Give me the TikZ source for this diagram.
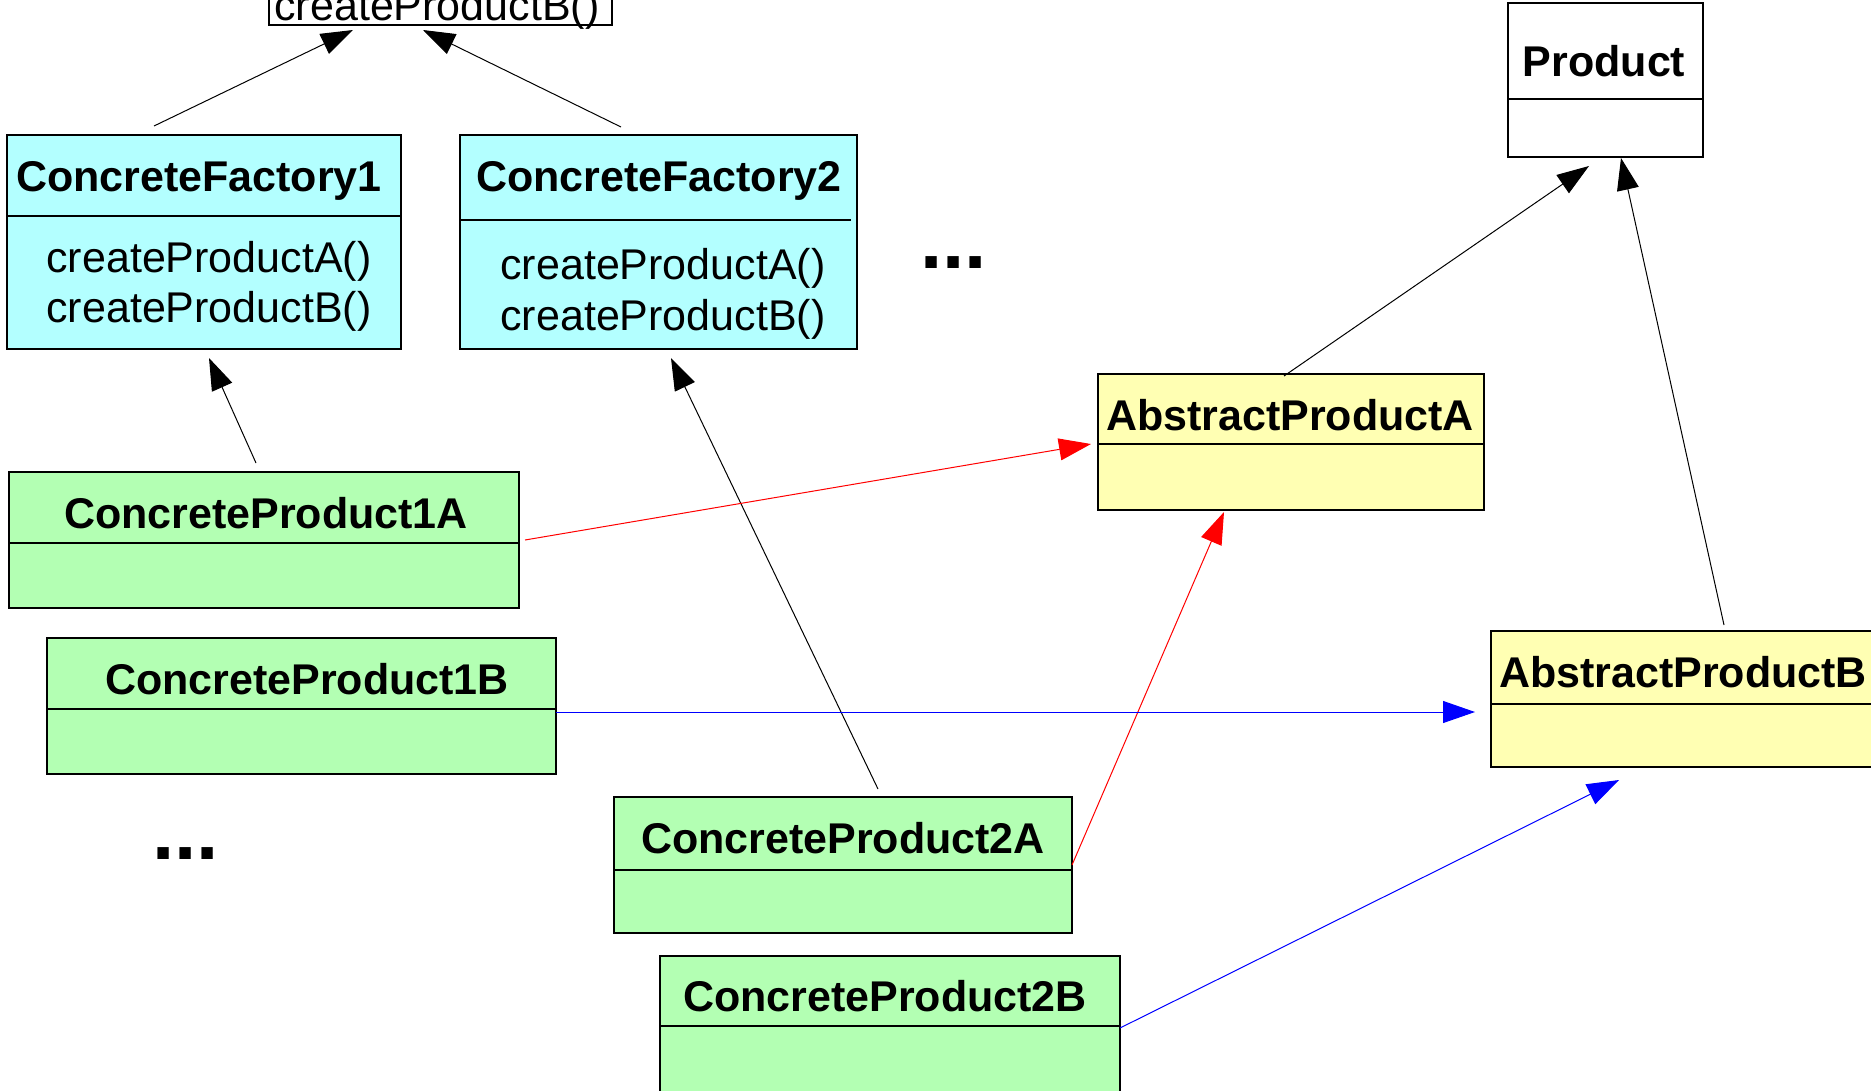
\documentclass[tikz,border=0pt]{standalone}
\usepackage{fontspec}
\setmainfont{Liberation Sans}
\usetikzlibrary{arrows.meta}
\definecolor{cyanf}{RGB}{179,255,255}
\definecolor{greenf}{RGB}{179,255,179}
\definecolor{yellowf}{RGB}{255,255,179}
\tikzset{
  cls/.style={draw=black, line width=2pt, rectangle, inner sep=0pt, anchor=north west},
  divline/.style={draw=black, line width=2pt},
  hdr/.style={font=\fontsize{43}{50}\selectfont\bfseries, inner sep=0pt, anchor=base},
  meth/.style={font=\fontsize{43}{50}\selectfont, inner sep=0pt, anchor=base},
  dotsym/.style={font=\fontsize{80}{80}\selectfont\bfseries, inner sep=0pt, anchor=base west},
  inh/.style={line width=1pt, -{Triangle[length=32pt,width=22pt]}},
}
\begin{document}
\begin{tikzpicture}[x=1pt,y=-1pt]
\useasboundingbox (0,0) rectangle (1871,1090);
\clip (0,0) rectangle (1871,1090);
\fill[white] (0,0) rectangle (1871,1090);

% top (cut off) box
\node[cls, fill=white, minimum width=343pt, minimum height=74pt] (top) at (268,-50) {};
\node[meth] (topt) at (437,20) {createProductB()};

% ConcreteFactory1
\node[cls, fill=cyanf, minimum width=394pt, minimum height=214pt] (cf1) at (6,134) {};
\draw[divline] (6,216) -- (400,216);
\node[hdr] (cf1t) at (199,191) {ConcreteFactory1};
\node[meth] (cf1a) at (209,272) {createProductA()};
\node[meth] (cf1b) at (209,322) {createProductB()};

% ConcreteFactory2
\node[cls, fill=cyanf, minimum width=397pt, minimum height=214pt] (cf2) at (459,134) {};
\draw[divline] (459,220) -- (851,220);
\node[hdr] (cf2t) at (659,191) {ConcreteFactory2};
\node[meth] (cf2a) at (663,279) {createProductA()};
\node[meth] (cf2b) at (663,330) {createProductB()};

% dots
\node[dotsym] (dots1) at (920,268) {...};
\node[dotsym] (dots2) at (152,859) {...};

% Product
\node[cls, fill=white, minimum width=195pt, minimum height=154pt] (prod) at (1507,2) {};
\draw[divline] (1507,99) -- (1702,99);
\node[hdr] (prodt) at (1604,76) {Product};

% AbstractProductA
\node[cls, fill=yellowf, minimum width=386pt, minimum height=136pt] (apa) at (1097,373) {};
\draw[divline] (1097,444) -- (1483,444);
\node[hdr] (apat) at (1290,430) {AbstractProductA};

% AbstractProductB
\node[cls, fill=yellowf, minimum width=390pt, minimum height=136pt] (apb) at (1490,630) {};
\draw[divline] (1490,704) -- (1880,704);
\node[hdr] (apbt) at (1683,687) {AbstractProductB};

% ConcreteProduct1A
\node[cls, fill=greenf, minimum width=510pt, minimum height=136pt] (cp1a) at (8,471) {};
\draw[divline] (8,543) -- (518,543);
\node[hdr] (cp1at) at (266,528) {ConcreteProduct1A};

% ConcreteProduct1B
\node[cls, fill=greenf, minimum width=509pt, minimum height=136pt] (cp1b) at (46,637) {};
\draw[divline] (46,709) -- (555,709);
\node[hdr] (cp1bt) at (307,694) {ConcreteProduct1B};

% ConcreteProduct2A
\node[cls, fill=greenf, minimum width=458pt, minimum height=136pt] (cp2a) at (613,796) {};
\draw[divline] (613,870) -- (1071,870);
\node[hdr] (cp2at) at (843,853) {ConcreteProduct2A};

% ConcreteProduct2B
\node[cls, fill=greenf, minimum width=460pt, minimum height=150pt] (cp2b) at (659,955) {};
\draw[divline] (659,1026) -- (1119,1026);
\node[hdr] (cp2bt) at (885,1011) {ConcreteProduct2B};

% connector end points
\coordinate (s1) at (154,126);  \coordinate (e1) at (353,30);
\coordinate (s2) at (621,127);  \coordinate (e2) at (423,30);
\coordinate (s3) at (256,463);  \coordinate (e3) at (209,358);
\coordinate (s4) at (878,789);  \coordinate (e4) at (671,358);
\coordinate (s5) at (525,540);  \coordinate (e5) at (1091,444);
\coordinate (s6) at (1072,865); \coordinate (e6) at (1224,512);
\coordinate (s7) at (556,712);  \coordinate (e7) at (1475,712);
\coordinate (s8) at (1120,1028);\coordinate (e8) at (1619,780);
\coordinate (s9) at (1284,376); \coordinate (e9) at (1589,166);
\coordinate (s10) at (1724,625);\coordinate (e10) at (1621,158);

\draw[inh] (s1) -- (e1);
\draw[inh] (s2) -- (e2);
\draw[inh] (s3) -- (e3);
\draw[inh] (s4) -- (e4);
\draw[inh, red] (s5) -- (e5);
\draw[inh, red] (s6) -- (e6);
\draw[inh, blue] (s7) -- (e7);
\draw[inh, blue] (s8) -- (e8);
\draw[inh] (s9) -- (e9);
\draw[inh] (s10) -- (e10);
\end{tikzpicture}
\end{document}
